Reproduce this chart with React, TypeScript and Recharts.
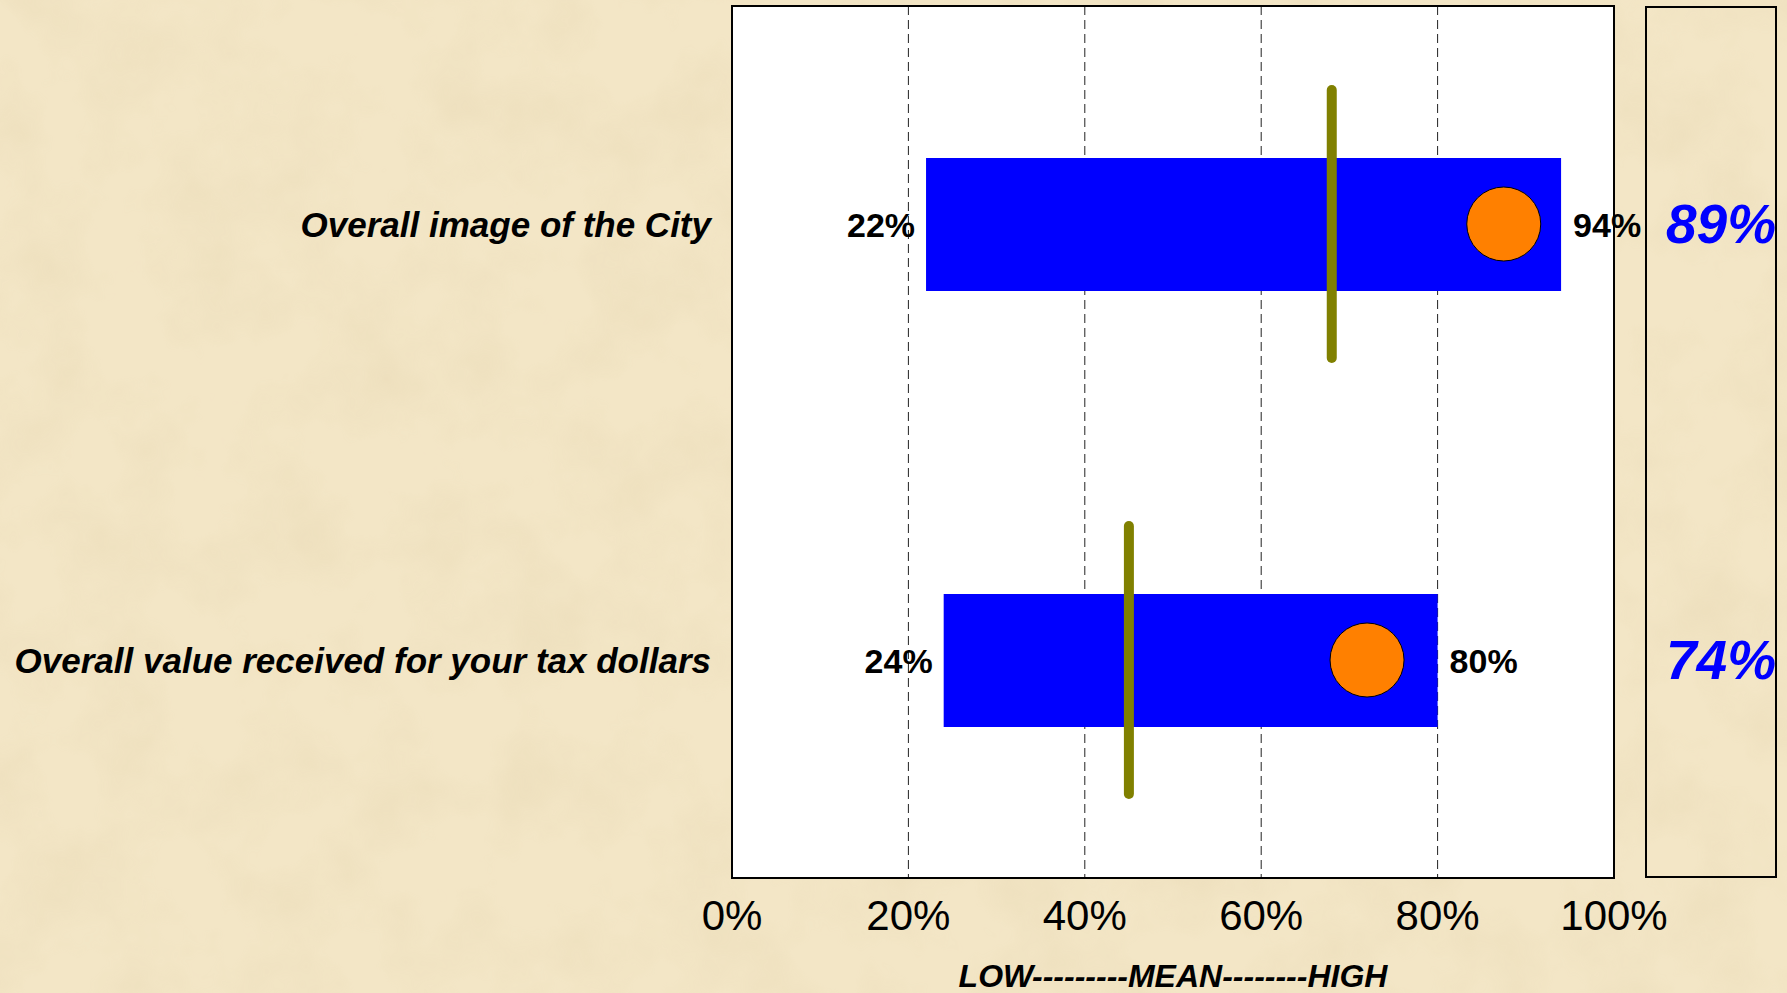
import React from 'react';
import {
  ComposedChart,
  Bar,
  Scatter,
  XAxis,
  YAxis,
  CartesianGrid,
  ReferenceArea,
  LabelList
} from 'recharts';

const categories = ['Overall image of the City', 'Overall value received for your tax dollars'];
const lowValues = [22, 24];
const highValues = [94, 80];
const meanValues = [68, 45];
const cityValues = [87.5, 72];
const scoreLabels = ['89%', '74%'];
const xTicks = [0, 20, 40, 60, 80, 100];

const data = categories.map((name, i) => ({
  name,
  low: lowValues[i],
  high: highValues[i],
  mean: meanValues[i],
  city: cityValues[i],
}));

const FONT = '"Liberation Sans", Arial, sans-serif';

// parchment texture, drawn with an svg noise filter
const paper =
  "url(\"data:image/svg+xml;utf8,<svg xmlns='http://www.w3.org/2000/svg' width='1787' height='993'>" +
  "<filter id='n'><feTurbulence type='fractalNoise' baseFrequency='0.012' numOctaves='4' seed='7'/>" +
  "<feColorMatrix values='0 0 0 0 0.80  0 0 0 0 0.68  0 0 0 0 0.45  0 0 0 1.4 -0.55'/></filter>" +
  "<rect width='100%' height='100%' fill='%23F3E6C6'/>" +
  "<rect width='100%' height='100%' filter='url(%23n)' opacity='0.55'/></svg>\")";

const CategoryTick = ({ x, y, payload }: any) => (
  <text x={x} y={y} textAnchor="end" dominantBaseline="central" fontFamily={FONT}
    fontSize={35} fontWeight="bold" fontStyle="italic" fill="#000">
    {payload.value}
  </text>
);

const ScoreTick = ({ x, y, payload }: any) => (
  <text x={x + 107} y={y} textAnchor="middle" dominantBaseline="central" fontFamily={FONT}
    fontSize={55} fontWeight="bold" fontStyle="italic" fill="#0000FF">
    {scoreLabels[categories.indexOf(payload.value)]}
  </text>
);

// olive vertical bar for the mean
const MeanMark = ({ cx, cy }: any) => (
  <line x1={cx} x2={cx} y1={cy - 134} y2={cy + 134} stroke="#808000" strokeWidth={10} strokeLinecap="round" />
);

const CityDot = ({ cx, cy }: any) => (
  <circle cx={cx} cy={cy} r={37} fill="#FF8000" stroke="#000" strokeWidth={1} />
);

const labelStyle = { fontSize: 34, fontWeight: 'bold', fill: '#000', fontFamily: FONT };

export default function App() {
  return (
    <div
      style={{
        position: 'absolute',
        left: 0,
        top: 0,
        width: 1787,
        height: 993,
        overflow: 'hidden',
        backgroundColor: '#EFE0BC',
        backgroundImage: paper,
      }}
    >
      <div
        style={{
          position: 'absolute',
          left: 1645,
          top: 6,
          width: 132,
          height: 872,
          border: '2px solid #000',
          boxSizing: 'border-box',
        }}
      />
      <div style={{ position: 'absolute', left: 0, top: 0 }}>
        <ComposedChart
          width={1787}
          height={993}
          data={data}
          layout="vertical"
          margin={{ top: 6, right: 0, bottom: 0, left: 0 }}
        >
          <CartesianGrid horizontal={false} stroke="#222" strokeDasharray="9 5" fill="#fff" fillOpacity={1} />
          <XAxis
            type="number"
            domain={[0, 100]}
            ticks={xTicks}
            tickFormatter={(v: number) => `${v}%`}
            tick={{ fontSize: 42, fill: '#000', fontFamily: FONT }}
            tickSize={0}
            tickMargin={22}
            axisLine={false}
            height={115}
            label={{
              value: 'LOW---------MEAN--------HIGH',
              position: 'insideBottom',
              offset: 6,
              fill: '#000',
              fontSize: 32,
              fontWeight: 'bold',
              fontStyle: 'italic',
              fontFamily: FONT,
            }}
          />
          <YAxis
            type="category"
            dataKey="name"
            width={732}
            tick={<CategoryTick />}
            tickSize={0}
            tickMargin={21}
            axisLine={false}
          />
          <YAxis
            yAxisId="right"
            orientation="right"
            type="category"
            dataKey="name"
            width={173}
            tick={<ScoreTick />}
            tickSize={0}
            tickMargin={0}
            axisLine={false}
          />
          <Bar
            dataKey={(d: any) => [d.low, d.high]}
            fill="#0000FF"
            barSize={133}
            isAnimationActive={false}
          >
            <LabelList dataKey="low" position="left" offset={11} formatter={(v: number) => `${v}%`} style={labelStyle} />
            <LabelList dataKey="high" position="right" offset={12} formatter={(v: number) => `${v}%`} style={labelStyle} />
          </Bar>
          <Scatter dataKey="mean" shape={<MeanMark />} isAnimationActive={false} />
          <Scatter dataKey="city" shape={<CityDot />} isAnimationActive={false} />
          <ReferenceArea x1={0} x2={100} fill="none" fillOpacity={0} stroke="#000" strokeWidth={2} />
        </ComposedChart>
      </div>
    </div>
  );
}
